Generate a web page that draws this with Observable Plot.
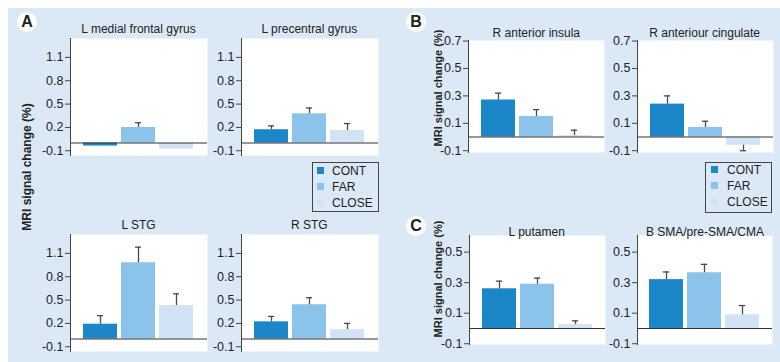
<!DOCTYPE html>
<html>
<head>
<meta charset="utf-8">
<script src="https://cdn.jsdelivr.net/npm/d3@7"></script>
<script src="https://cdn.jsdelivr.net/npm/@observablehq/plot@0.6"></script>
<style>
  html, body { margin: 0; padding: 0; background: #ffffff; }
  #fig { position: relative; width: 780px; height: 362px; overflow: hidden; background: #ffffff;
         font-family: "Liberation Sans", Arial, Helvetica, sans-serif; color: #222; }
  #panel { position: absolute; left: 8px; top: 8px; width: 772px; height: 354px; background: #dbe9f6; }
  .abs { position: absolute; white-space: nowrap; }
  .title { font-size: 12px; transform: translate(-50%, -50%); line-height: 14px; }
  .ylab { font-weight: bold; transform: translate(-50%, -50%) rotate(-90deg); line-height: 14px; }
  .letter { width: 20px; height: 20px; border-radius: 50%; background: #fff; font-weight: bold; font-size: 16px;
            text-align: center; line-height: 20px; transform: translate(-50%, -50%); }
  .legend { border: 1px solid #444; box-sizing: border-box; }
  .sw { position: absolute; width: 7px; height: 7px; }
  .lt { position: absolute; font-size: 12px; line-height: 14px; }
  svg { position: absolute; overflow: visible; }
</style>
</head>
<body>
<div id="fig"><div id="panel"></div></div>
<script>
// ---------------- data ----------------
const conditions = ["CONT", "FAR", "CLOSE"];
const colors = ["#1b87c9", "#8cc3ea", "#d2e3f5"];

const ticksA = [-0.1, 0.2, 0.5, 0.8, 1.1];
const ticksB = [-0.1, 0.1, 0.3, 0.5, 0.7];
const ticksC = [-0.1, 0.1, 0.3, 0.5];

const regionNames = ["L medial frontal gyrus", "L precentral gyrus", "L STG", "R STG",
                     "R anterior insula", "R anteriour cingulate", "L putamen", "B SMA/pre-SMA/CMA"];

// bar heights (mean % signal change) per condition [CONT, FAR, CLOSE]
const meanLMedialFrontal = [-0.04, 0.20, -0.08];
const meanLPrecentral    = [0.17, 0.375, 0.16];
const meanLSTG           = [0.19, 0.98, 0.43];
const meanRSTG           = [0.22, 0.44, 0.12];
const meanRAntInsula     = [0.27, 0.15, 0.01];
const meanRAntCingulate  = [0.24, 0.07, -0.06];
const meanLPutamen       = [0.26, 0.29, 0.025];
const meanBSMA           = [0.32, 0.365, 0.09];

// error bar end values per condition
const errLMedialFrontal = [null, 0.26, null];
const errLPrecentral    = [0.22, 0.45, 0.25];
const errLSTG           = [0.30, 1.18, 0.58];
const errRSTG           = [0.29, 0.53, 0.20];
const errRAntInsula     = [0.32, 0.20, 0.05];
const errRAntCingulate  = [0.30, 0.115, -0.10];
const errLPutamen       = [0.31, 0.33, 0.05];
const errBSMA           = [0.37, 0.42, 0.15];

// ---------------- layout ----------------
const fig = document.getElementById("fig");
const FONT = '"Liberation Sans", Arial, Helvetica, sans-serif';
const ML = 40;

const domA = [-0.161, 1.343], domB = [-0.113, 0.704], domC = [-0.105, 0.609];
const specs = [
  {name: regionNames[0], mean: meanLMedialFrontal, err: errLMedialFrontal, ticks: ticksA, dom: domA, x0: 70,    x1: 207,   y0: 38,  y1: 155, ty: 29},
  {name: regionNames[1], mean: meanLPrecentral,    err: errLPrecentral,    ticks: ticksA, dom: domA, x0: 240.7, x1: 378,   y0: 38,  y1: 155, ty: 29},
  {name: regionNames[2], mean: meanLSTG,           err: errLSTG,           ticks: ticksA, dom: domA, x0: 70,    x1: 207,   y0: 234, y1: 351, ty: 224.5},
  {name: regionNames[3], mean: meanRSTG,           err: errRSTG,           ticks: ticksA, dom: domA, x0: 240.7, x1: 378,   y0: 234, y1: 351, ty: 224.5},
  {name: regionNames[4], mean: meanRAntInsula,     err: errRAntInsula,     ticks: ticksB, dom: domB, x0: 468.3, x1: 604.3, y0: 40,  y1: 152, ty: 32.5},
  {name: regionNames[5], mean: meanRAntCingulate,  err: errRAntCingulate,  ticks: ticksB, dom: domB, x0: 636.7, x1: 772.5, y0: 40,  y1: 152, ty: 32.5},
  {name: regionNames[6], mean: meanLPutamen,       err: errLPutamen,       ticks: ticksC, dom: domC, x0: 469,   x1: 604.5, y0: 235, y1: 343.5, ty: 231.5},
  {name: regionNames[7], mean: meanBSMA,           err: errBSMA,           ticks: ticksC, dom: domC, x0: 637.3, x1: 772.5, y0: 235, y1: 343.5, ty: 231.5}
];

function addDiv(cls, text, left, top, extra) {
  const d = document.createElement("div");
  d.className = "abs " + cls;
  d.textContent = text;
  d.style.left = left + "px";
  d.style.top = top + "px";
  if (extra) Object.assign(d.style, extra);
  fig.appendChild(d);
  return d;
}

for (const s of specs) {
  const rows = conditions.map((c, i) => ({cond: c, mean: s.mean[i], err: s.err[i]}));
  const errRows = rows.filter(r => r.err != null);
  const W = Math.round(s.x1 - s.x0) + ML;
  const H = Math.round(s.y1 - s.y0);
  const pIn = 0.1, pOut = 0.31;
  const step = (W - ML) / (conditions.length - pIn + 2 * pOut);
  const bw = step * (1 - pIn);
  const capInset = (bw - 7) / 2;
  const chart = Plot.plot({
    width: W, height: H,
    marginLeft: ML, marginRight: 0, marginTop: 0, marginBottom: 0,
    style: {background: "transparent", fontFamily: FONT, fontSize: "12.5px", color: "#222", overflow: "visible"},
    x: {domain: conditions, paddingInner: pIn, paddingOuter: pOut, axis: null},
    y: {domain: s.dom, axis: null},
    color: {domain: conditions, range: colors},
    marks: [
      Plot.frame({fill: "white", stroke: null}),
      Plot.barY(rows, {x: "cond", y: "mean", fill: "cond"}),
      Plot.ruleX(errRows, {x: "cond", y1: "mean", y2: "err", stroke: "#4a4a4a", strokeWidth: 1.3}),
      Plot.tickY(errRows, {x: "cond", y: "err", stroke: "#4a4a4a", strokeWidth: 1.3, insetLeft: capInset, insetRight: capInset}),
      Plot.ruleY([0], {stroke: "#333", strokeWidth: 1.1}),
      Plot.axisY({ticks: s.ticks, tickFormat: d => d.toFixed(1), tickSize: 5, tickPadding: 2, label: null, stroke: "#444", fill: "#222", fontSize: 12.5}),
      Plot.frame({anchor: "left", stroke: "#444", strokeWidth: 1})
    ]
  });
  chart.style.left = (s.x0 - ML) + "px";
  chart.style.top = s.y0 + "px";
  fig.appendChild(chart);
  addDiv("title", s.name, (s.x0 + s.x1) / 2, s.ty);
}

// y labels
addDiv("ylab", "MRI signal change (%)", 26.7, 166.5, {fontSize: "12px"});
addDiv("ylab", "MRI signal change (%)", 437.5, 88, {fontSize: "11px"});
addDiv("ylab", "MRI signal change (%)", 437.5, 279, {fontSize: "11px"});

// panel letters
addDiv("letter", "A", 27, 22);
addDiv("letter", "B", 416, 22);
addDiv("letter", "C", 416, 226);

// legends
function legend(left, top, w, h, swX, txX, centers) {
  const box = addDiv("legend", "", left, top, {width: w + "px", height: h + "px"});
  conditions.forEach((c, i) => {
    const sw = document.createElement("div");
    sw.className = "sw";
    sw.style.left = (swX - left - 1) + "px";
    sw.style.top = (centers[i] - top - 1 - 3.5) + "px";
    sw.style.background = colors[i];
    box.appendChild(sw);
    const t = document.createElement("div");
    t.className = "lt";
    t.textContent = c;
    t.style.left = (txX - left - 1) + "px";
    t.style.top = (centers[i] - top - 1 - 7) + "px";
    box.appendChild(t);
  });
}
legend(312, 162, 67, 50, 317, 332, [170.7, 186.7, 203.3]);
legend(705, 161.5, 67, 51, 711, 727, [169.5, 185.8, 202.2]);
</script>
</body>
</html>
